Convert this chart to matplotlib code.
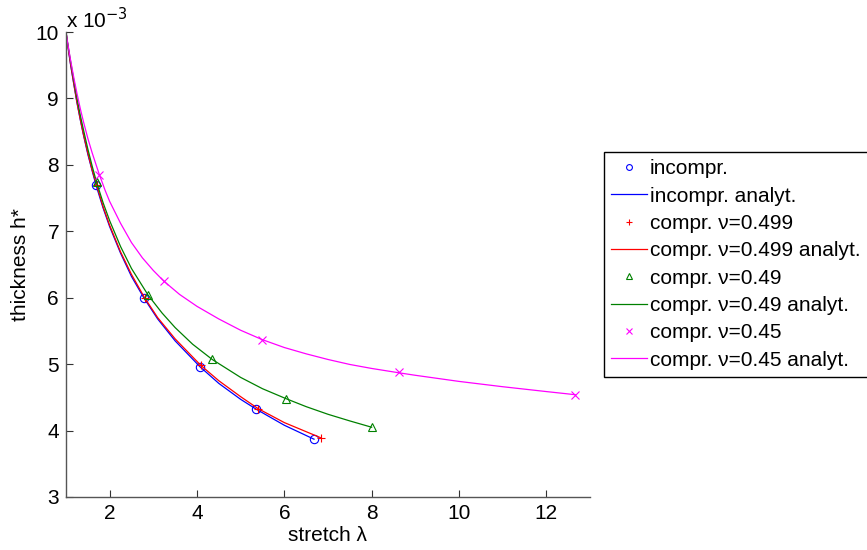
import numpy as np
import matplotlib.pyplot as plt

plt.rcParams['font.family'] = ['Liberation Sans', 'DejaVu Sans']
plt.rcParams['font.size'] = 15

# stretch (lambda) and thickness h* (in units of 1e-3)
# simulation points
lam_inc = [1.69, 2.79, 4.07, 5.36, 6.68]
h_inc = [7.70, 5.99, 4.96, 4.32, 3.87]
lam_499 = [1.70, 2.80, 4.09, 5.40, 6.84]
h_499 = [7.70, 5.99, 4.98, 4.33, 3.89]
lam_49 = [1.70, 2.88, 4.35, 6.04, 8.00]
h_49 = [7.74, 6.04, 5.07, 4.47, 4.05]
lam_45 = [1.76, 3.24, 5.49, 8.62, 12.66]
h_45 = [7.85, 6.25, 5.37, 4.875, 4.54]

# analytical curves
lam_inc_an = [1.0, 1.05, 1.1, 1.18, 1.25, 1.33, 1.4, 1.5, 1.6, 1.69, 1.85, 2.0, 2.25, 2.5, 2.79, 3.1, 3.5, 4.07, 4.5, 5.0, 5.36, 6.0, 6.68]
h_inc_an = [10.0, 9.76, 9.53, 9.21, 8.94, 8.67, 8.45, 8.16, 7.91, 7.69, 7.35, 7.07, 6.67, 6.32, 5.99, 5.68, 5.35, 4.96, 4.71, 4.47, 4.32, 4.08, 3.87]
lam_499_an = [1.0, 1.05, 1.1, 1.18, 1.25, 1.33, 1.4, 1.5, 1.6, 1.70, 1.85, 2.0, 2.25, 2.5, 2.80, 3.1, 3.5, 4.09, 4.5, 5.0, 5.40, 6.0, 6.84]
h_499_an = [10.0, 9.76, 9.54, 9.22, 8.95, 8.68, 8.46, 8.18, 7.92, 7.70, 7.37, 7.09, 6.69, 6.35, 6.00, 5.70, 5.38, 4.98, 4.75, 4.51, 4.33, 4.12, 3.89]
lam_49_an = [1.0, 1.05, 1.1, 1.18, 1.25, 1.33, 1.4, 1.5, 1.6, 1.70, 1.85, 2.0, 2.25, 2.5, 2.88, 3.2, 3.5, 3.9, 4.35, 5.0, 5.5, 6.04, 6.5, 7.0, 7.5, 8.0]
h_49_an = [10.0, 9.78, 9.58, 9.27, 9.01, 8.74, 8.53, 8.24, 7.98, 7.74, 7.43, 7.16, 6.77, 6.44, 6.04, 5.77, 5.55, 5.30, 5.07, 4.80, 4.63, 4.48, 4.36, 4.245, 4.145, 4.05]
lam_45_an = [1.0, 1.05, 1.1, 1.18, 1.25, 1.33, 1.4, 1.5, 1.6, 1.76, 1.9, 2.0, 2.25, 2.5, 2.75, 3.0, 3.24, 3.6, 4.0, 4.5, 5.0, 5.49, 6.0, 6.5, 7.0, 7.5, 8.0, 8.62, 9.0, 10.0, 11.0, 12.0, 12.66]
h_45_an = [10.0, 9.79, 9.595, 9.31, 9.08, 8.84, 8.65, 8.40, 8.18, 7.86, 7.61, 7.45, 7.12, 6.83, 6.60, 6.41, 6.25, 6.05, 5.87, 5.68, 5.51, 5.37, 5.25, 5.155, 5.07, 4.995, 4.935, 4.87, 4.832, 4.74, 4.66, 4.587, 4.54]

fig = plt.figure(figsize=(8.67, 5.5), dpi=100)
ax = fig.add_axes([0.0761, 0.0964, 0.6044, 0.8454])

mk = dict(linestyle='none', markersize=6, markerfacecolor='none', markeredgewidth=0.8)
ax.plot(lam_inc, h_inc, marker='o', color='#0000ff', label='incompr.', **mk)
ax.plot(lam_inc_an, h_inc_an, color='#0000ff', lw=0.9, label='incompr. analyt.')
ax.plot(lam_499, h_499, marker='+', color='#ff0000', label='compr. ν=0.499', **mk)
ax.plot(lam_499_an, h_499_an, color='#ff0000', lw=0.9, label='compr. ν=0.499 analyt.')
ax.plot(lam_49, h_49, marker='^', color='#008000', label='compr. ν=0.49', **mk)
ax.plot(lam_49_an, h_49_an, color='#008000', lw=0.9, label='compr. ν=0.49 analyt.')
ax.plot(lam_45, h_45, marker='x', color='#ff00ff', label='compr. ν=0.45', **mk)
ax.plot(lam_45_an, h_45_an, color='#ff00ff', lw=0.9, label='compr. ν=0.45 analyt.')

ax.set_xlim(1, 13)
ax.set_ylim(3, 10)
ax.set_xticks([2, 4, 6, 8, 10, 12])
ax.set_yticks(np.arange(3, 11))
for s in ['top', 'right']:
    ax.spines[s].set_visible(False)
for s in ['left', 'bottom']:
    ax.spines[s].set_color('#555555')
    ax.spines[s].set_linewidth(1.0)
ax.tick_params(direction='in', length=5, width=0.8, color='#333333', labelsize=15, pad=5)

ax.set_xlabel('stretch λ', fontsize=15, labelpad=2)
ax.set_ylabel('thickness h*', fontsize=15, labelpad=4)
ax.text(0, 1.0, r'x 10$^{-3}$', transform=ax.transAxes, ha='left', va='bottom', fontsize=15)

leg = fig.legend(loc='upper left', bbox_to_anchor=(0.6967, 0.7236), fontsize=15,
                 frameon=True, fancybox=False, edgecolor='black', framealpha=1,
                 handlelength=1.7, handletextpad=0.15, labelspacing=0.4,
                 borderpad=0.35, borderaxespad=0, markerscale=0.7)
leg.get_frame().set_linewidth(1.0)

fig.savefig('out.png', dpi=100)
